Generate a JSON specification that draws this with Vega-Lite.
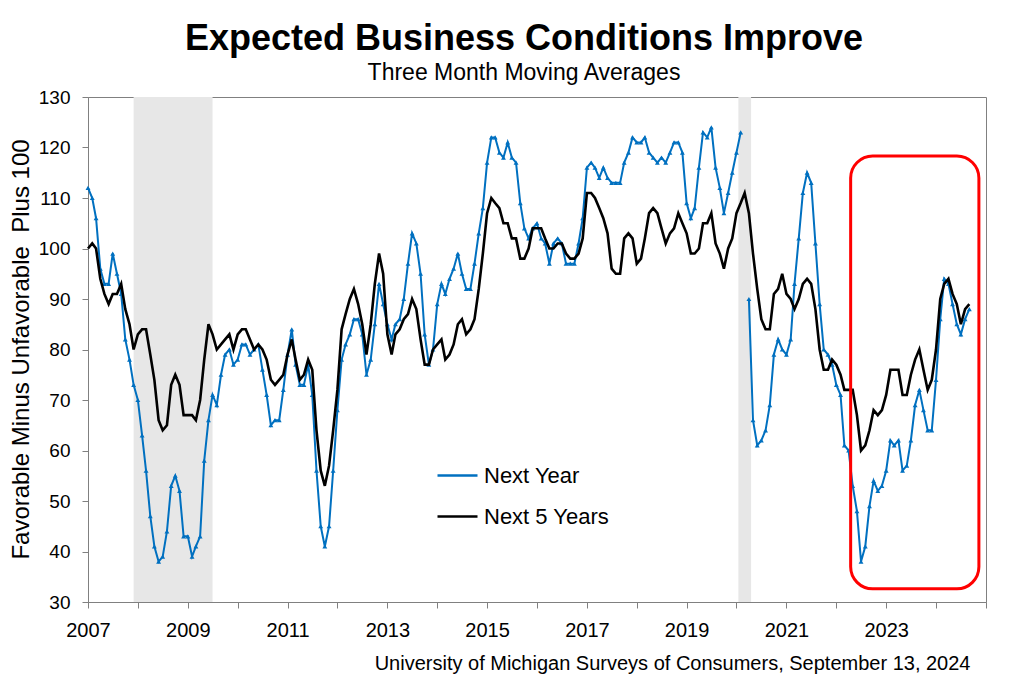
{
"$schema": "https://vega.github.io/schema/vega-lite/v6.json",
"width": 898, "height": 505,
"autosize": {"type": "none"},
"padding": {"left": 88, "top": 97, "right": 38, "bottom": 79},
"background": "white",
"title": {"text": "Expected Business Conditions Improve", "subtitle": "Three Month Moving Averages", "anchor": "middle", "dx": -13, "offset": 2, "fontSize": 36, "fontWeight": "bold", "subtitleFontSize": 23, "subtitlePadding": 4, "color": "black", "subtitleColor": "black", "font": "Liberation Sans", "subtitleFont": "Liberation Sans"},
"config": {"font": "Liberation Sans", "view": {"stroke": "#808080", "strokeWidth": 1}},
"datasets": {
"series": [
{"d":"2007-01","Next Year":112,"Next 5 Years":100},{"d":"2007-02","Next Year":110,"Next 5 Years":101},{"d":"2007-03","Next Year":106,"Next 5 Years":100},{"d":"2007-04","Next Year":96,"Next 5 Years":94},{"d":"2007-05","Next Year":93,"Next 5 Years":91},{"d":"2007-06","Next Year":93,"Next 5 Years":89},{"d":"2007-07","Next Year":99,"Next 5 Years":91},{"d":"2007-08","Next Year":95,"Next 5 Years":91},{"d":"2007-09","Next Year":91,"Next 5 Years":93},{"d":"2007-10","Next Year":82,"Next 5 Years":88},{"d":"2007-11","Next Year":78,"Next 5 Years":85},{"d":"2007-12","Next Year":73,"Next 5 Years":80},
{"d":"2008-01","Next Year":70,"Next 5 Years":83},{"d":"2008-02","Next Year":63,"Next 5 Years":84},{"d":"2008-03","Next Year":56,"Next 5 Years":84},{"d":"2008-04","Next Year":47,"Next 5 Years":79},{"d":"2008-05","Next Year":41,"Next 5 Years":74},{"d":"2008-06","Next Year":38,"Next 5 Years":66},{"d":"2008-07","Next Year":39,"Next 5 Years":64},{"d":"2008-08","Next Year":44,"Next 5 Years":65},{"d":"2008-09","Next Year":53,"Next 5 Years":73},{"d":"2008-10","Next Year":55,"Next 5 Years":75},{"d":"2008-11","Next Year":52,"Next 5 Years":73},{"d":"2008-12","Next Year":43,"Next 5 Years":67},
{"d":"2009-01","Next Year":43,"Next 5 Years":67},{"d":"2009-02","Next Year":39,"Next 5 Years":67},{"d":"2009-03","Next Year":41,"Next 5 Years":66},{"d":"2009-04","Next Year":43,"Next 5 Years":70},{"d":"2009-05","Next Year":58,"Next 5 Years":78},{"d":"2009-06","Next Year":66,"Next 5 Years":85},{"d":"2009-07","Next Year":71,"Next 5 Years":83},{"d":"2009-08","Next Year":69,"Next 5 Years":80},{"d":"2009-09","Next Year":75,"Next 5 Years":81},{"d":"2009-10","Next Year":79,"Next 5 Years":82},{"d":"2009-11","Next Year":80,"Next 5 Years":83},{"d":"2009-12","Next Year":77,"Next 5 Years":80},
{"d":"2010-01","Next Year":78,"Next 5 Years":83},{"d":"2010-02","Next Year":81,"Next 5 Years":84},{"d":"2010-03","Next Year":81,"Next 5 Years":84},{"d":"2010-04","Next Year":79,"Next 5 Years":82},{"d":"2010-05","Next Year":80,"Next 5 Years":80},{"d":"2010-06","Next Year":81,"Next 5 Years":81},{"d":"2010-07","Next Year":76,"Next 5 Years":80},{"d":"2010-08","Next Year":71,"Next 5 Years":78},{"d":"2010-09","Next Year":65,"Next 5 Years":74},{"d":"2010-10","Next Year":66,"Next 5 Years":73},{"d":"2010-11","Next Year":66,"Next 5 Years":74},{"d":"2010-12","Next Year":72,"Next 5 Years":75},
{"d":"2011-01","Next Year":79,"Next 5 Years":79},{"d":"2011-02","Next Year":84,"Next 5 Years":82},{"d":"2011-03","Next Year":77,"Next 5 Years":78},{"d":"2011-04","Next Year":73,"Next 5 Years":74},{"d":"2011-05","Next Year":73,"Next 5 Years":75},{"d":"2011-06","Next Year":77,"Next 5 Years":78},{"d":"2011-07","Next Year":71,"Next 5 Years":76},{"d":"2011-08","Next Year":56,"Next 5 Years":64},{"d":"2011-09","Next Year":45,"Next 5 Years":56},{"d":"2011-10","Next Year":41,"Next 5 Years":53},{"d":"2011-11","Next Year":45,"Next 5 Years":57},{"d":"2011-12","Next Year":56,"Next 5 Years":64},
{"d":"2012-01","Next Year":68,"Next 5 Years":72},{"d":"2012-02","Next Year":78,"Next 5 Years":84},{"d":"2012-03","Next Year":81,"Next 5 Years":87},{"d":"2012-04","Next Year":83,"Next 5 Years":90},{"d":"2012-05","Next Year":86,"Next 5 Years":92},{"d":"2012-06","Next Year":86,"Next 5 Years":89},{"d":"2012-07","Next Year":83,"Next 5 Years":85},{"d":"2012-08","Next Year":75,"Next 5 Years":79},{"d":"2012-09","Next Year":78,"Next 5 Years":85},{"d":"2012-10","Next Year":85,"Next 5 Years":93},{"d":"2012-11","Next Year":93,"Next 5 Years":99},{"d":"2012-12","Next Year":89,"Next 5 Years":95},
{"d":"2013-01","Next Year":85,"Next 5 Years":83},{"d":"2013-02","Next Year":82,"Next 5 Years":79},{"d":"2013-03","Next Year":85,"Next 5 Years":83},{"d":"2013-04","Next Year":86,"Next 5 Years":84},{"d":"2013-05","Next Year":90,"Next 5 Years":86},{"d":"2013-06","Next Year":97,"Next 5 Years":87},{"d":"2013-07","Next Year":103,"Next 5 Years":90},{"d":"2013-08","Next Year":101,"Next 5 Years":88},{"d":"2013-09","Next Year":95,"Next 5 Years":82},{"d":"2013-10","Next Year":83,"Next 5 Years":77},{"d":"2013-11","Next Year":77,"Next 5 Years":77},{"d":"2013-12","Next Year":80,"Next 5 Years":80},
{"d":"2014-01","Next Year":89,"Next 5 Years":81},{"d":"2014-02","Next Year":93,"Next 5 Years":82},{"d":"2014-03","Next Year":91,"Next 5 Years":78},{"d":"2014-04","Next Year":94,"Next 5 Years":79},{"d":"2014-05","Next Year":96,"Next 5 Years":81},{"d":"2014-06","Next Year":99,"Next 5 Years":85},{"d":"2014-07","Next Year":95,"Next 5 Years":86},{"d":"2014-08","Next Year":92,"Next 5 Years":83},{"d":"2014-09","Next Year":92,"Next 5 Years":84},{"d":"2014-10","Next Year":97,"Next 5 Years":86},{"d":"2014-11","Next Year":103,"Next 5 Years":92},{"d":"2014-12","Next Year":108,"Next 5 Years":99},
{"d":"2015-01","Next Year":117,"Next 5 Years":107},{"d":"2015-02","Next Year":122,"Next 5 Years":110},{"d":"2015-03","Next Year":122,"Next 5 Years":109},{"d":"2015-04","Next Year":119,"Next 5 Years":108},{"d":"2015-05","Next Year":118,"Next 5 Years":105},{"d":"2015-06","Next Year":121,"Next 5 Years":105},{"d":"2015-07","Next Year":118,"Next 5 Years":102},{"d":"2015-08","Next Year":117,"Next 5 Years":102},{"d":"2015-09","Next Year":109,"Next 5 Years":98},{"d":"2015-10","Next Year":104,"Next 5 Years":98},{"d":"2015-11","Next Year":102,"Next 5 Years":100},{"d":"2015-12","Next Year":104,"Next 5 Years":104},
{"d":"2016-01","Next Year":105,"Next 5 Years":104},{"d":"2016-02","Next Year":102,"Next 5 Years":104},{"d":"2016-03","Next Year":101,"Next 5 Years":102},{"d":"2016-04","Next Year":97,"Next 5 Years":100},{"d":"2016-05","Next Year":101,"Next 5 Years":100},{"d":"2016-06","Next Year":102,"Next 5 Years":101},{"d":"2016-07","Next Year":101,"Next 5 Years":101},{"d":"2016-08","Next Year":97,"Next 5 Years":99},{"d":"2016-09","Next Year":97,"Next 5 Years":98},{"d":"2016-10","Next Year":97,"Next 5 Years":98},{"d":"2016-11","Next Year":101,"Next 5 Years":99},{"d":"2016-12","Next Year":106,"Next 5 Years":102},
{"d":"2017-01","Next Year":116,"Next 5 Years":111},{"d":"2017-02","Next Year":117,"Next 5 Years":111},{"d":"2017-03","Next Year":116,"Next 5 Years":110},{"d":"2017-04","Next Year":114,"Next 5 Years":108},{"d":"2017-05","Next Year":116,"Next 5 Years":106},{"d":"2017-06","Next Year":114,"Next 5 Years":103},{"d":"2017-07","Next Year":113,"Next 5 Years":96},{"d":"2017-08","Next Year":113,"Next 5 Years":95},{"d":"2017-09","Next Year":113,"Next 5 Years":95},{"d":"2017-10","Next Year":117,"Next 5 Years":102},{"d":"2017-11","Next Year":119,"Next 5 Years":103},{"d":"2017-12","Next Year":122,"Next 5 Years":102},
{"d":"2018-01","Next Year":121,"Next 5 Years":97},{"d":"2018-02","Next Year":121,"Next 5 Years":98},{"d":"2018-03","Next Year":122,"Next 5 Years":102},{"d":"2018-04","Next Year":119,"Next 5 Years":107},{"d":"2018-05","Next Year":118,"Next 5 Years":108},{"d":"2018-06","Next Year":117,"Next 5 Years":107},{"d":"2018-07","Next Year":118,"Next 5 Years":104},{"d":"2018-08","Next Year":117,"Next 5 Years":101},{"d":"2018-09","Next Year":119,"Next 5 Years":103},{"d":"2018-10","Next Year":121,"Next 5 Years":104},{"d":"2018-11","Next Year":121,"Next 5 Years":107},{"d":"2018-12","Next Year":119,"Next 5 Years":105},
{"d":"2019-01","Next Year":109,"Next 5 Years":103},{"d":"2019-02","Next Year":106,"Next 5 Years":99},{"d":"2019-03","Next Year":108,"Next 5 Years":99},{"d":"2019-04","Next Year":116,"Next 5 Years":100},{"d":"2019-05","Next Year":123,"Next 5 Years":105},{"d":"2019-06","Next Year":122,"Next 5 Years":105},{"d":"2019-07","Next Year":124,"Next 5 Years":107},{"d":"2019-08","Next Year":116,"Next 5 Years":101},{"d":"2019-09","Next Year":112,"Next 5 Years":99},{"d":"2019-10","Next Year":107,"Next 5 Years":96},{"d":"2019-11","Next Year":111,"Next 5 Years":100},{"d":"2019-12","Next Year":115,"Next 5 Years":102},
{"d":"2020-01","Next Year":119,"Next 5 Years":107},{"d":"2020-02","Next Year":123,"Next 5 Years":109},{"d":"2020-03","Next Year":null,"Next 5 Years":111},{"d":"2020-04","Next Year":90,"Next 5 Years":107},{"d":"2020-05","Next Year":66,"Next 5 Years":99},{"d":"2020-06","Next Year":61,"Next 5 Years":92},{"d":"2020-07","Next Year":62,"Next 5 Years":86},{"d":"2020-08","Next Year":64,"Next 5 Years":84},{"d":"2020-09","Next Year":69,"Next 5 Years":84},{"d":"2020-10","Next Year":79,"Next 5 Years":91},{"d":"2020-11","Next Year":82,"Next 5 Years":92},{"d":"2020-12","Next Year":80,"Next 5 Years":95},
{"d":"2021-01","Next Year":79,"Next 5 Years":91},{"d":"2021-02","Next Year":82,"Next 5 Years":90},{"d":"2021-03","Next Year":93,"Next 5 Years":88},{"d":"2021-04","Next Year":102,"Next 5 Years":90},{"d":"2021-05","Next Year":111,"Next 5 Years":93},{"d":"2021-06","Next Year":115,"Next 5 Years":94},{"d":"2021-07","Next Year":113,"Next 5 Years":93},{"d":"2021-08","Next Year":101,"Next 5 Years":88},{"d":"2021-09","Next Year":89,"Next 5 Years":80},{"d":"2021-10","Next Year":80,"Next 5 Years":76},{"d":"2021-11","Next Year":79,"Next 5 Years":76},{"d":"2021-12","Next Year":77,"Next 5 Years":78},
{"d":"2022-01","Next Year":73,"Next 5 Years":77},{"d":"2022-02","Next Year":71,"Next 5 Years":75},{"d":"2022-03","Next Year":61,"Next 5 Years":72},{"d":"2022-04","Next Year":60,"Next 5 Years":72},{"d":"2022-05","Next Year":53,"Next 5 Years":72},{"d":"2022-06","Next Year":48,"Next 5 Years":67},{"d":"2022-07","Next Year":38,"Next 5 Years":60},{"d":"2022-08","Next Year":41,"Next 5 Years":61},{"d":"2022-09","Next Year":49,"Next 5 Years":64},{"d":"2022-10","Next Year":54,"Next 5 Years":68},{"d":"2022-11","Next Year":52,"Next 5 Years":67},{"d":"2022-12","Next Year":53,"Next 5 Years":68},
{"d":"2023-01","Next Year":56,"Next 5 Years":71},{"d":"2023-02","Next Year":62,"Next 5 Years":76},{"d":"2023-03","Next Year":61,"Next 5 Years":76},{"d":"2023-04","Next Year":62,"Next 5 Years":76},{"d":"2023-05","Next Year":56,"Next 5 Years":71},{"d":"2023-06","Next Year":57,"Next 5 Years":71},{"d":"2023-07","Next Year":62,"Next 5 Years":75},{"d":"2023-08","Next Year":69,"Next 5 Years":78},{"d":"2023-09","Next Year":72,"Next 5 Years":80},{"d":"2023-10","Next Year":68,"Next 5 Years":76},{"d":"2023-11","Next Year":64,"Next 5 Years":72},{"d":"2023-12","Next Year":64,"Next 5 Years":74},
{"d":"2024-01","Next Year":74,"Next 5 Years":80},{"d":"2024-02","Next Year":86,"Next 5 Years":90},{"d":"2024-03","Next Year":94,"Next 5 Years":93},{"d":"2024-04","Next Year":93,"Next 5 Years":94},{"d":"2024-05","Next Year":89,"Next 5 Years":91},{"d":"2024-06","Next Year":85,"Next 5 Years":89},{"d":"2024-07","Next Year":83,"Next 5 Years":85},{"d":"2024-08","Next Year":86,"Next 5 Years":88},{"d":"2024-09","Next Year":88,"Next 5 Years":89}
],
"shade": [{"start": "2007-12-01", "end": "2009-07-01"}, {"start": "2020-01-15", "end": "2020-04-17"}],
"box": [{"x1": "2022-04-16", "x2": "2024-11-10", "y1": 118.3, "y2": 32.6}]
},
"layer": [
{"data": {"name": "shade"}, "mark": {"type": "rect", "color": "#E7E7E7"},
 "encoding": {
  "x": {"field": "start", "type": "temporal", "scale": {"type": "utc", "domain": [{"year": 2007, "month": 1, "date": 1, "utc": true}, {"year": 2025, "month": 1, "date": 1, "utc": true}]},
   "axis": {"tickCount": {"interval": "year", "step": 1}, "labelExpr": "(utcyear(datum.value) % 2 == 1 && utcyear(datum.value) < 2025) ? utcFormat(datum.value, '%Y') : ''", "labelFlush": false, "labelBound": false, "labelOverlap": false, "labelFontSize": 20, "labelColor": "black", "labelPadding": 12, "tickSize": 6, "tickColor": "#808080", "domainColor": "#808080", "grid": false,
    "title": "University of Michigan Surveys of Consumers, September 13, 2024", "titleFontSize": 20, "titleFontWeight": "normal", "titleColor": "black", "titleX": 882, "titleY": 67, "titleAlign": "right", "titleBaseline": "alphabetic", "titleAnchor": "end"}},
  "x2": {"field": "end"}}},
{"data": {"name": "series"},
 "transform": [{"fold": ["Next Year", "Next 5 Years"], "as": ["series", "value"]}, {"filter": "datum.series == 'Next Year'"}],
 "mark": {"type": "line", "strokeWidth": 2},
 "encoding": {
  "x": {"field": "d", "type": "temporal", "scale": {"type": "utc", "domain": [{"year": 2007, "month": 1, "date": 1, "utc": true}, {"year": 2025, "month": 1, "date": 1, "utc": true}]}},
  "y": {"field": "value", "type": "quantitative", "scale": {"domain": [30, 130], "nice": false, "zero": false},
   "axis": {"values": [30, 40, 50, 60, 70, 80, 90, 100, 110, 120, 130], "labelFontSize": 19, "labelColor": "black", "labelPadding": 12, "tickSize": 6, "tickColor": "#808080", "domainColor": "#808080", "grid": false,
    "title": "Favorable Minus Unfavorable \u00a0Plus 100", "titleFontSize": 24, "titleFontWeight": "normal", "titleColor": "black", "titleX": -67, "titleY": 252, "titleAngle": -90, "titleAlign": "center", "titleBaseline": "middle"}},
  "color": {"field": "series", "type": "nominal", "scale": {"domain": ["Next Year", "Next 5 Years"], "range": ["#0070C0", "#000000"]},
   "legend": {"title": null, "orient": "none", "legendX": 348, "legendY": 357, "symbolType": "stroke", "symbolSize": 1600, "symbolStrokeWidth": 2.5, "labelFontSize": 22, "labelColor": "black", "labelOffset": 5, "rowPadding": 8, "labelFont": "Liberation Sans"}}}},
{"data": {"name": "series"},
 "transform": [{"fold": ["Next Year", "Next 5 Years"], "as": ["series", "value"]}, {"filter": "datum.series == 'Next Year'"}],
 "mark": {"type": "point", "shape": "triangle-up", "filled": true, "size": 24, "color": "#0070C0", "opacity": 1},
 "encoding": {
  "x": {"field": "d", "type": "temporal", "scale": {"type": "utc", "domain": [{"year": 2007, "month": 1, "date": 1, "utc": true}, {"year": 2025, "month": 1, "date": 1, "utc": true}]}},
  "y": {"field": "value", "type": "quantitative"}}},
{"data": {"name": "series"},
 "transform": [{"fold": ["Next Year", "Next 5 Years"], "as": ["series", "value"]}, {"filter": "datum.series == 'Next 5 Years'"}],
 "mark": {"type": "line", "strokeWidth": 2.6},
 "encoding": {
  "x": {"field": "d", "type": "temporal", "scale": {"type": "utc", "domain": [{"year": 2007, "month": 1, "date": 1, "utc": true}, {"year": 2025, "month": 1, "date": 1, "utc": true}]}},
  "y": {"field": "value", "type": "quantitative"},
  "color": {"field": "series", "type": "nominal", "scale": {"domain": ["Next Year", "Next 5 Years"], "range": ["#0070C0", "#000000"]},
   "legend": {"title": null, "orient": "none", "legendX": 348, "legendY": 357, "symbolType": "stroke", "symbolSize": 1600, "symbolStrokeWidth": 2.5, "labelFontSize": 22, "labelColor": "black", "labelOffset": 5, "rowPadding": 8, "labelFont": "Liberation Sans"}}}},
{"data": {"name": "box"},
 "mark": {"type": "rect", "filled": false, "stroke": "#FF0000", "strokeWidth": 3, "cornerRadius": 22},
 "encoding": {
  "x": {"field": "x1", "type": "temporal", "scale": {"type": "utc", "domain": [{"year": 2007, "month": 1, "date": 1, "utc": true}, {"year": 2025, "month": 1, "date": 1, "utc": true}]}},
  "x2": {"field": "x2"},
  "y": {"field": "y1", "type": "quantitative"},
  "y2": {"field": "y2"}}}
]
}
